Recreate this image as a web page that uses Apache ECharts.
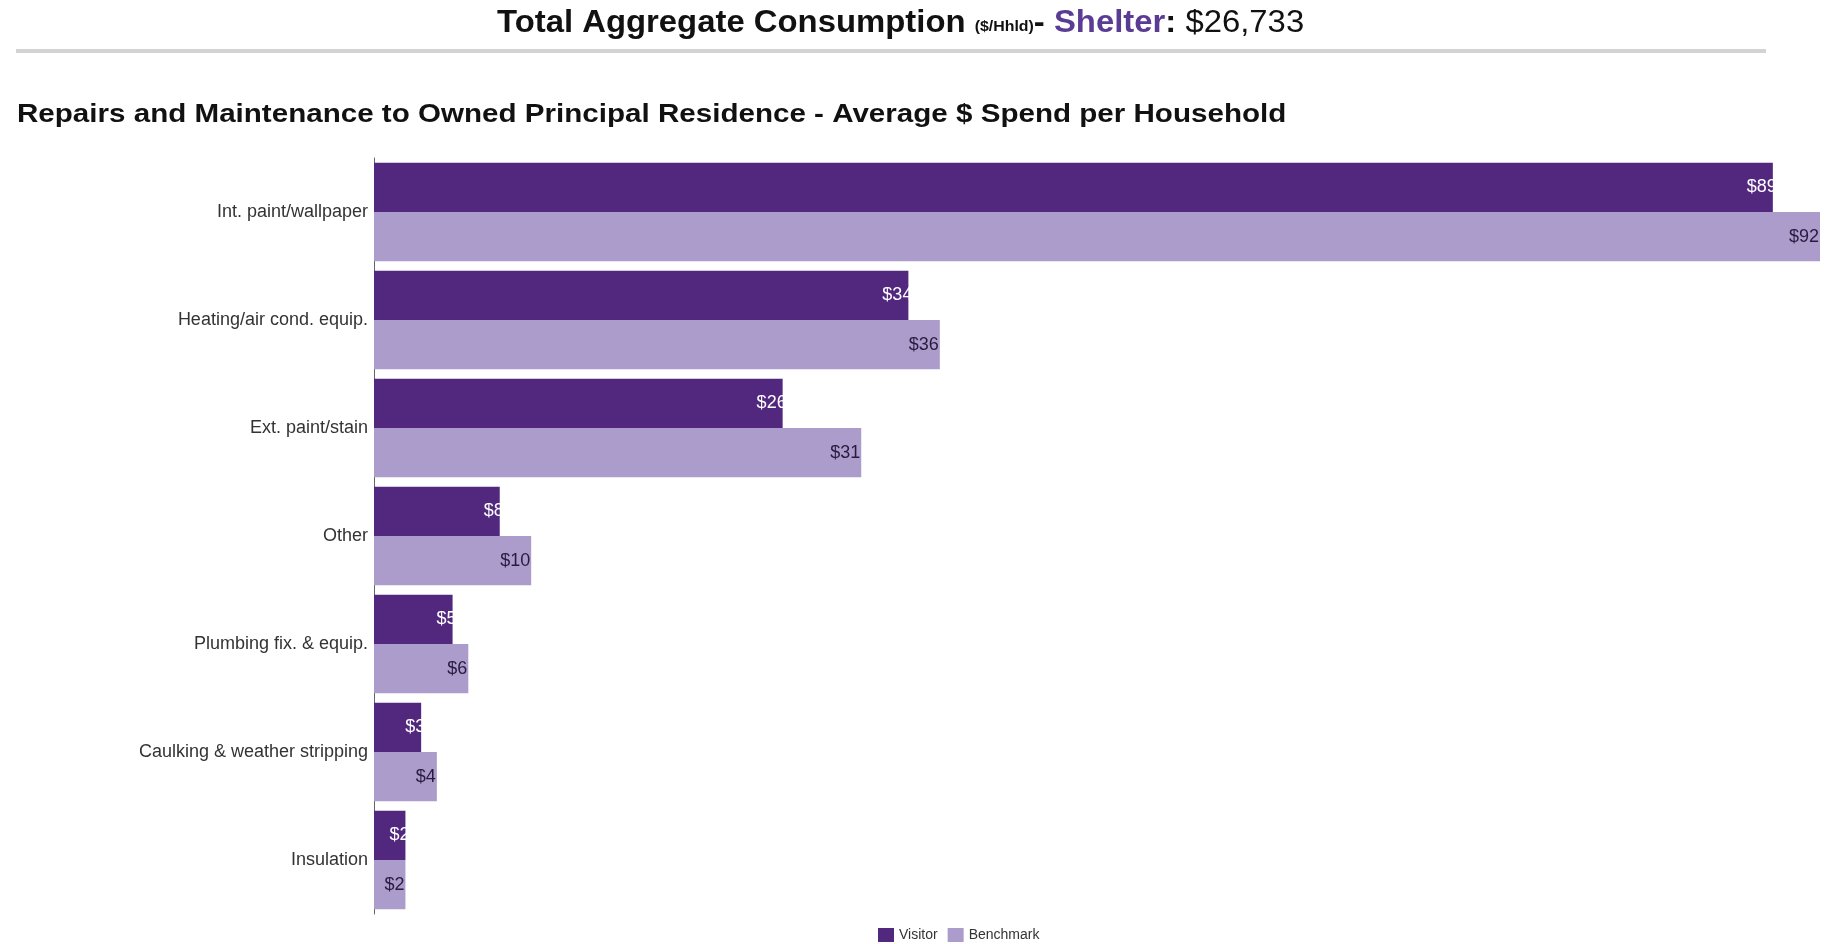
<!DOCTYPE html>
<html>
<head>
<meta charset="utf-8">
<script src="https://cdn.jsdelivr.net/npm/echarts@6/dist/echarts.min.js"></script>
<style>
  html, body { margin: 0; padding: 0; background: #fff; }
  #chart { width: 1827px; height: 944px; }
</style>
</head>
<body>
<div id="chart"></div>
<script>
// Repairs and maintenance spend per household, by item
const categories = [
  'Int. paint/wallpaper',
  'Heating/air cond. equip.',
  'Ext. paint/stain',
  'Other',
  'Plumbing fix. & equip.',
  'Caulking & weather stripping',
  'Insulation'
];
const visitorValues = [89, 34, 26, 8, 5, 3, 2];
const benchmarkValues = [92, 36, 31, 10, 6, 4, 2];
const seriesNames = ['Visitor', 'Benchmark'];

const FONT = '"Liberation Sans", Arial, sans-serif';
const VISITOR = '#52287f';
const BENCH = '#ab9ccb';

const chart = echarts.init(document.getElementById('chart'), null, { renderer: 'canvas' });

const dollar = p => '$' + p.value;

chart.setOption({
  backgroundColor: '#ffffff',
  animation: false,
  graphic: [
    // headline
    {
      type: 'text',
      x: 497,
      y: 23,
      scaleX: 1.06,
      silent: true,
      style: {
        text: '{big|Total Aggregate Consumption }{small|($/Hhld)}{big|- }{shelter|Shelter}{big|: }{amt|$26,733}',
        align: 'left',
        verticalAlign: 'middle',
        fontFamily: FONT,
        fontSize: 31,
        fill: '#111',
        rich: {
          big: { fontFamily: FONT, fontSize: 31, fontWeight: 'bold', fill: '#111' },
          small: { fontFamily: FONT, fontSize: 15, fontWeight: 'bold', fill: '#111', padding: [8, 0, 0, 0] },
          shelter: { fontFamily: FONT, fontSize: 31, fontWeight: 'bold', fill: '#5a3c94' },
          amt: { fontFamily: FONT, fontSize: 31, fontWeight: 'normal', fill: '#111' }
        }
      }
    },
    // divider under the headline
    {
      type: 'rect',
      shape: { x: 16, y: 49, width: 1750, height: 4 },
      style: { fill: '#d3d3d3' },
      silent: true
    },
    // chart heading
    {
      type: 'text',
      x: 17,
      y: 115,
      scaleX: 1.183,
      silent: true,
      style: {
        text: 'Repairs and Maintenance to Owned Principal Residence - Average $ Spend per Household',
        align: 'left',
        verticalAlign: 'middle',
        fontFamily: FONT,
        fontSize: 25,
        fontWeight: 'bold',
        fill: '#111'
      }
    }
  ],
  legend: {
    data: seriesNames,
    left: 873,
    top: 923,
    itemWidth: 16,
    itemHeight: 14,
    itemGap: 10,
    icon: 'rect',
    textStyle: { fontFamily: FONT, fontSize: 14, color: '#333' }
  },
  grid: { left: 374, right: 7, top: 158, height: 756, containLabel: false },
  xAxis: {
    type: 'value',
    min: 0,
    max: 92,
    show: false
  },
  yAxis: {
    type: 'category',
    data: categories,
    inverse: true,
    axisLine: { show: true, lineStyle: { color: '#666', width: 1 } },
    axisTick: { show: false },
    axisLabel: { fontFamily: FONT, fontSize: 18, color: '#333', margin: 6 }
  },
  series: [
    {
      name: seriesNames[0],
      type: 'bar',
      data: visitorValues,
      barGap: '0%',
      barCategoryGap: '9%',
      itemStyle: { color: VISITOR },
      label: {
        show: true,
        position: 'insideRight',
        distance: 0,
        offset: [4, 0],
        formatter: dollar,
        fontFamily: FONT,
        fontSize: 18,
        color: '#ffffff'
      }
    },
    {
      name: seriesNames[1],
      type: 'bar',
      data: benchmarkValues,
      barGap: '0%',
      barCategoryGap: '9%',
      itemStyle: { color: BENCH },
      label: {
        show: true,
        position: 'insideRight',
        distance: 1,
        formatter: dollar,
        fontFamily: FONT,
        fontSize: 18,
        color: '#2a1a40'
      }
    }
  ]
});
</script>
</body>
</html>
